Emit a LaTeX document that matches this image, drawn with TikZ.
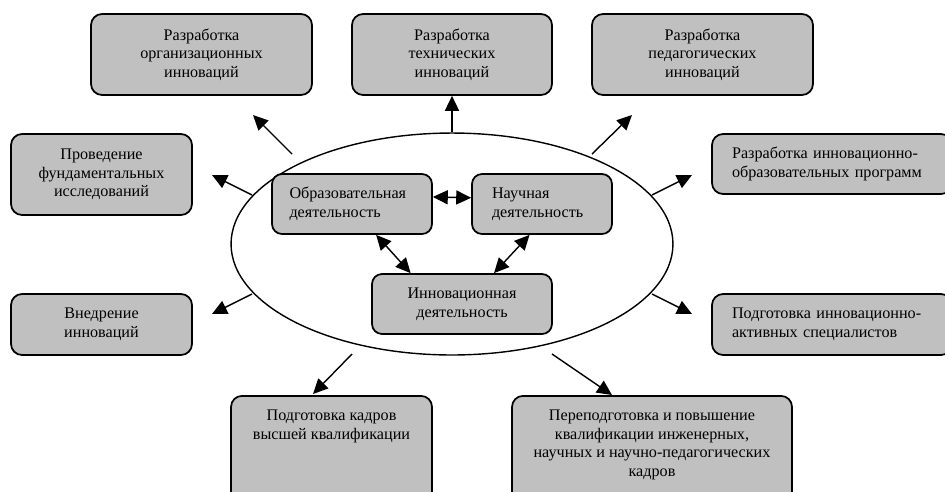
\documentclass[tikz,border=0pt]{standalone}
\usepackage{fontspec}
\setmainfont{Liberation Serif}
\usetikzlibrary{arrows.meta,shapes.geometric}
\definecolor{boxgray}{RGB}{192,192,192}

\begin{document}
\begin{tikzpicture}[x=0.02cm,y=-0.02cm,
    txt/.style={font=\fontsize{9.2}{10.6}\selectfont},
    box/.style={txt,draw,line width=1pt,fill=boxgray,rounded corners=0.22cm,
      minimum height=1.62cm,align=center,inner sep=0pt},
    inbox/.style={box,minimum height=1.2cm,rounded corners=0.2cm},
    lowbox/.style={box,anchor=north,inner ysep=0.28cm,text depth=2.2cm},
    tip/.style={Triangle[length=8.5pt,width=8pt]},
    arr/.style={line width=0.8pt,-{Triangle[length=8.5pt,width=8pt]}},
    darr/.style={line width=0.8pt,{Triangle[length=8.5pt,width=8pt]}-{Triangle[length=8.5pt,width=8pt]}}]
  \useasboundingbox (0,0) rectangle (945,491);

  % ellipse with the three activities
  \node[draw,ellipse,line width=0.8pt,minimum width=8.84cm,minimum height=4.44cm,inner sep=0pt] (ell) at (452,244) {};
  \node[inbox,minimum width=3.2cm,text width=2.5cm,align=left] (obr) at (352,204) {Образовательная деятельность};
  \node[inbox,minimum width=2.8cm,text width=2.0cm,align=left] (nauch) at (542,204) {Научная деятельность};
  \node[inbox,minimum width=3.6cm] (innov) at (462,304) {Инновационная\\деятельность};

  % outer boxes
  \node[box,minimum width=4.42cm] (org) at (201.5,54.5) {Разработка\\организационных\\инноваций};
  \node[box,minimum width=4.0cm] (tech) at (452,54.5) {Разработка\\технических\\инноваций};
  \node[box,minimum width=4.42cm] (ped) at (702.5,54.5) {Разработка\\педагогических\\инноваций};
  \node[box,minimum width=3.62cm] (fund) at (101.5,174.5) {Проведение\\фундаментальных\\исследований};
  \node[box,minimum width=4.8cm,minimum height=1.2cm,text width=4.0cm,align=left] (prog) at (832,164) {Разработка инновационно-\\образовательных программ};
  \node[box,minimum width=3.62cm,minimum height=1.22cm] (vnedr) at (101.5,324.5) {Внедрение\\инноваций};
  \node[box,minimum width=4.8cm,minimum height=1.22cm,text width=4.0cm,align=left] (spec) at (832,324.5) {Подготовка инновационно-\\активных специалистов};
  \node[lowbox,minimum width=4.02cm] (kadry) at (331.5,395) {Подготовка кадров\\высшей квалификации};
  \node[lowbox,minimum width=5.6cm] (perep) at (652,395) {Переподготовка и повышение\\квалификации инженерных,\\научных и научно-педагогических\\кадров};

  % free ends of the outer arrows
  \coordinate (ell-org) at (292,154);   \coordinate (tip-org) at (253,115);
  \coordinate (ell-ped) at (592,154);   \coordinate (tip-ped) at (632,115);
  \coordinate (ell-fund) at (252,195);  \coordinate (tip-fund) at (212,175);
  \coordinate (ell-prog) at (652,195);  \coordinate (tip-prog) at (692,175);
  \coordinate (ell-vnedr) at (252,294); \coordinate (tip-vnedr) at (212,314);
  \coordinate (ell-spec) at (652,294);  \coordinate (tip-spec) at (692,314);
  \coordinate (ell-kadry) at (352,354); \coordinate (tip-kadry) at (313,394);
  \coordinate (ell-perep) at (552,354); \coordinate (tip-perep) at (612,395);

  \draw[arr] (ell.north) -- (tech.south);
  \draw[arr] (ell-org) -- (tip-org);
  \draw[arr] (ell-ped) -- (tip-ped);
  \draw[arr] (ell-fund) -- (tip-fund);
  \draw[arr] (ell-prog) -- (tip-prog);
  \draw[arr] (ell-vnedr) -- (tip-vnedr);
  \draw[arr] (ell-spec) -- (tip-spec);
  \draw[arr] (ell-kadry) -- (tip-kadry);
  \draw[arr] (ell-perep) -- (tip-perep);

  % links inside the ellipse
  \draw[darr] (obr.5) -- (nauch.175);
  \draw[darr] (obr.-52) -- (innov.149);
  \draw[darr] (nauch.-112) -- (innov.44);
\end{tikzpicture}
\end{document}
